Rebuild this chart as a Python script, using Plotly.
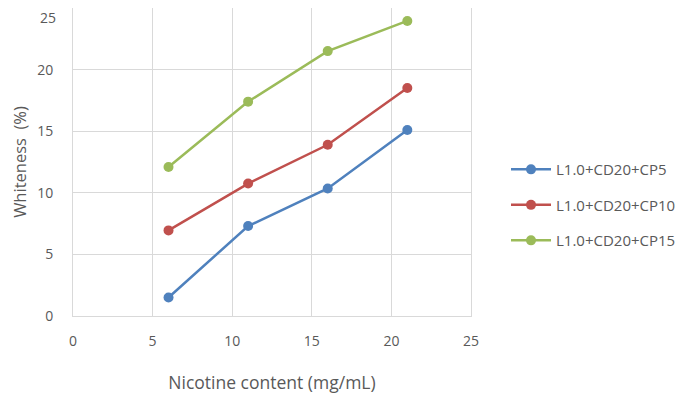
import plotly.graph_objects as go

nicotine = [6, 11, 16, 21]
series_names = ["L1.0+CD20+CP5", "L1.0+CD20+CP10", "L1.0+CD20+CP15"]
cp5 = [1.5, 7.3, 10.35, 15.1]
cp10 = [6.95, 10.75, 13.9, 18.5]
cp15 = [12.1, 17.4, 21.5, 23.95]
colors = ["#4F81BD", "#C0504D", "#9BBB59"]
y_ticks = [0, 5, 10, 15, 20]
y_top_tick = [25]

fig = go.Figure()
for name, vals, c in zip(series_names, [cp5, cp10, cp15], colors):
    fig.add_trace(go.Scatter(
        x=nicotine, y=vals, name=name, mode="lines+markers",
        line=dict(color=c, width=2.5),
        marker=dict(color=c, size=10),
        legendgroup=name,
    ))
# invisible helper trace so the overlay axis carrying the top tick label is drawn
fig.add_trace(go.Scatter(x=[None], y=[None], yaxis="y2", showlegend=False,
                         hoverinfo="skip"))

font_fam = "Open Sans, Liberation Sans, sans-serif"
fig.update_layout(
    width=677, height=388,
    margin=dict(l=65, r=214, t=0, b=80),
    plot_bgcolor="white", paper_bgcolor="white",
    font=dict(family=font_fam, color="#595959", size=14),
    legend=dict(
        xref="container", yref="container", x=0.7356, y=0.492,
        xanchor="left", yanchor="middle",
        font=dict(size=15, color="#595959"),
        tracegroupgap=13, itemwidth=40, borderwidth=0,
    ),
    xaxis=dict(
        range=[0, 25], dtick=5, tick0=0, automargin=False,
        showgrid=True, gridcolor="#D9D9D9", gridwidth=1,
        showline=True, linecolor="#D9D9D9", linewidth=1, mirror=True,
        zeroline=False, ticks="", ticklabelstandoff=12,
        title=dict(text="Nicotine content (mg/mL)", standoff=27, font=dict(size=17.5)),
        tickfont=dict(size=14),
    ),
    yaxis=dict(
        range=[0, 25], tickmode="array", tickvals=y_ticks, automargin=False,
        showgrid=True, gridcolor="#D9D9D9", gridwidth=1,
        showline=True, linecolor="#D9D9D9", linewidth=1, mirror=True,
        zeroline=False, ticks="", ticklabelstandoff=16,
        title=dict(text="Whiteness  (%)", standoff=22, font=dict(size=16.5)),
        tickfont=dict(size=14),
    ),
    yaxis2=dict(
        range=[0, 25], tickmode="array", tickvals=y_top_tick, automargin=False,
        overlaying="y", side="left", showgrid=False, showline=False,
        zeroline=False, ticks="", ticklabelstandoff=16,
        ticklabelposition="outside bottom", ticklabeloverflow="allow",
        showticklabels=True, visible=True,
        tickfont=dict(size=14, color="#595959"),
    ),
)
fig.write_html("out.html")
